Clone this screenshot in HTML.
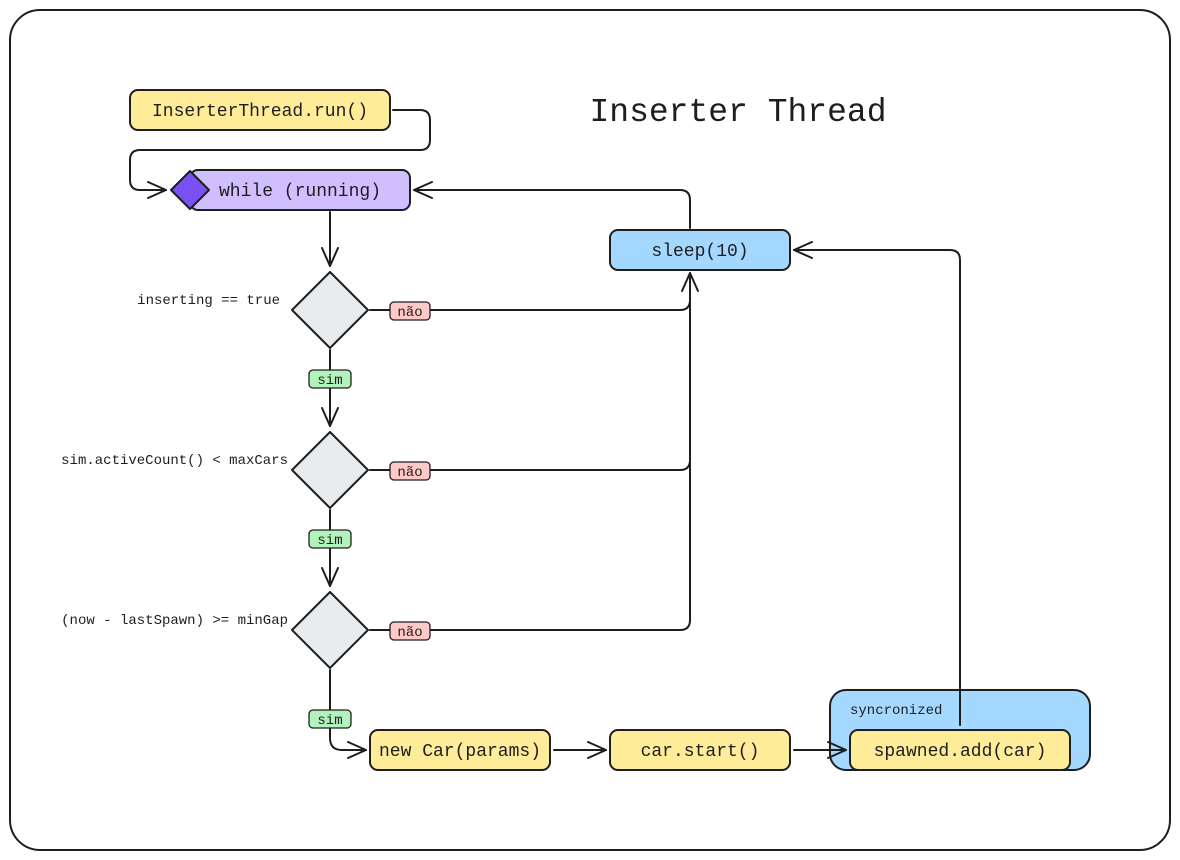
<!DOCTYPE html>
<html><head><style>
html,body{margin:0;padding:0;background:#fff;}
svg{display:block;}
text{font-family:"Liberation Mono",monospace;fill:#1e1e1e;}
</style></head><body>
<svg width="1180" height="860" viewBox="0 0 1180 860" xmlns="http://www.w3.org/2000/svg">
<rect x="10" y="10" width="1160" height="840" rx="30" fill="#fff" stroke="#1e1e1e" stroke-width="2"/>
<text x="738" y="121" font-size="33" text-anchor="middle">Inserter Thread</text>

<rect x="830" y="690" width="260" height="80" rx="16" fill="#a5d8ff" stroke="#1e1e1e" stroke-width="2"/>
<text x="850" y="714" font-size="14">syncronized</text>

<g fill="none" stroke="#1e1e1e" stroke-width="2" stroke-linecap="round" stroke-linejoin="round">
<path d="M393 110 H420 Q430 110 430 120 V140 Q430 150 420 150 H140 Q130 150 130 160 V180 Q130 190 140 190 H166"/>
<path d="M148 182 L166 190 L148 198"/>
<path d="M690 228 V200 Q690 190 680 190 H414"/>
<path d="M432 182 L414 190 L432 198"/>
<path d="M330 212 V266"/><path d="M322 248 L330 266 L338 248"/>
<path d="M330 350 V426"/><path d="M322 408 L330 426 L338 408"/>
<path d="M330 510 V586"/><path d="M322 568 L330 586 L338 568"/>
<path d="M330 670 V738 Q330 750 342 750 H366"/><path d="M348 742 L366 750 L348 758"/>
<path d="M554 750 H606"/><path d="M588 742 L606 750 L588 758"/>
<path d="M794 750 H846"/><path d="M828 742 L846 750 L828 758"/>
<path d="M370 310 H680 Q690 310 690 300 V273"/>
<path d="M682 291 L690 273 L698 291"/>
<path d="M370 470 H680 Q690 470 690 460 V300"/>
<path d="M370 630 H680 Q690 630 690 620 V460"/>
<path d="M960 725 V260 Q960 250 950 250 H794"/>
<path d="M812 242 L794 250 L812 258"/>
</g>

<rect x="130" y="90" width="260" height="40" rx="8" fill="#ffec99" stroke="#1e1e1e" stroke-width="2"/>
<text x="260" y="116" font-size="18" text-anchor="middle">InserterThread.run()</text>

<rect x="190" y="170" width="220" height="40" rx="8" fill="#d0bfff" stroke="#1e1e1e" stroke-width="2"/>
<path d="M190 171 L209 190 L190 209 L171 190 Z" fill="#7950f2" stroke="#1e1e1e" stroke-width="2" stroke-linejoin="round"/>
<text x="300" y="196" font-size="18" text-anchor="middle">while (running)</text>

<rect x="610" y="230" width="180" height="40" rx="8" fill="#a5d8ff" stroke="#1e1e1e" stroke-width="2"/>
<text x="700" y="256" font-size="18" text-anchor="middle">sleep(10)</text>

<g fill="#e9ecef" stroke="#1e1e1e" stroke-width="2" stroke-linejoin="round">
<path d="M330 272 L368 310 L330 348 L292 310 Z"/>
<path d="M330 432 L368 470 L330 508 L292 470 Z"/>
<path d="M330 592 L368 630 L330 668 L292 630 Z"/>
</g>

<g font-size="14">
<text x="280" y="304" text-anchor="end">inserting == true</text>
<text x="288" y="464" text-anchor="end">sim.activeCount() &lt; maxCars</text>
<text x="288" y="624" text-anchor="end">(now - lastSpawn) &gt;= minGap</text>
</g>

<g stroke="#1e1e1e" stroke-width="1.3">
<rect x="390" y="302" width="40" height="18" rx="4" fill="#ffc9c9"/>
<rect x="390" y="462" width="40" height="18" rx="4" fill="#ffc9c9"/>
<rect x="390" y="622" width="40" height="18" rx="4" fill="#ffc9c9"/>
<rect x="309" y="370" width="42" height="18" rx="4" fill="#b2f2bb"/>
<rect x="309" y="530" width="42" height="18" rx="4" fill="#b2f2bb"/>
<rect x="309" y="710" width="42" height="18" rx="4" fill="#b2f2bb"/>
</g>
<g font-size="14" text-anchor="middle">
<text x="410" y="316">não</text><text x="410" y="476">não</text><text x="410" y="636">não</text>
<text x="330" y="384">sim</text><text x="330" y="544">sim</text><text x="330" y="724">sim</text>
</g>

<rect x="370" y="730" width="180" height="40" rx="8" fill="#ffec99" stroke="#1e1e1e" stroke-width="2"/>
<text x="460" y="756" font-size="18" text-anchor="middle">new Car(params)</text>
<rect x="610" y="730" width="180" height="40" rx="8" fill="#ffec99" stroke="#1e1e1e" stroke-width="2"/>
<text x="700" y="756" font-size="18" text-anchor="middle">car.start()</text>

<rect x="850" y="730" width="220" height="40" rx="8" fill="#ffec99" stroke="#1e1e1e" stroke-width="2"/>
<text x="960" y="756" font-size="18" text-anchor="middle">spawned.add(car)</text>
</svg>
</body></html>
